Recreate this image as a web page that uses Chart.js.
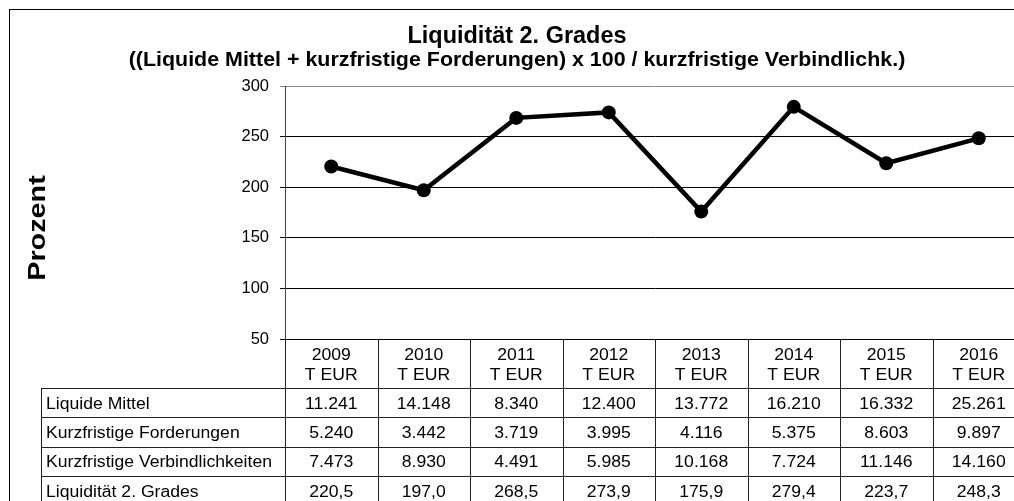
<!DOCTYPE html>
<html>
<head>
<meta charset="utf-8">
<script src="https://cdn.jsdelivr.net/npm/chart.js@4/dist/chart.umd.min.js"></script>
<style>
  html, body { margin: 0; padding: 0; background: #fff; overflow: hidden; }
  #wrap { width: 1040px; height: 501px; }
</style>
</head>
<body>
<div id="wrap"><canvas id="c" width="1040" height="501"></canvas></div>
<script>
const years = ['2009', '2010', '2011', '2012', '2013', '2014', '2015', '2016'];
const unitLabel = 'T EUR';
const liquideMittel = [11241, 14148, 8340, 12400, 13772, 16210, 16332, 25261];
const kurzfristigeForderungen = [5240, 3442, 3719, 3995, 4116, 5375, 8603, 9897];
const kurzfristigeVerbindlichkeiten = [7473, 8930, 4491, 5985, 10168, 7724, 11146, 14160];
const liquiditaet2 = [220.5, 197.0, 268.5, 273.9, 175.9, 279.4, 223.7, 248.3];
const rowLabels = ['Liquide Mittel', 'Kurzfristige Forderungen', 'Kurzfristige Verbindlichkeiten', 'Liquidität 2. Grades'];
const titleLines = ['Liquidität 2. Grades', '((Liquide Mittel + kurzfristige Forderungen) x 100 / kurzfristige Verbindlichk.)'];
const yAxisTitle = 'Prozent';
const yMin = 50, yMax = 300, yStep = 50;

const FONT = '"Liberation Sans", Arial, sans-serif';

function fmtThousands(v) {
  return String(v).replace(/\B(?=(\d{3})+(?!\d))/g, '.');
}
function fmtDecimal(v) {
  return v.toFixed(1).replace('.', ',');
}

const tableRows = [
  liquideMittel.map(fmtThousands),
  kurzfristigeForderungen.map(fmtThousands),
  kurzfristigeVerbindlichkeiten.map(fmtThousands),
  liquiditaet2.map(fmtDecimal)
];

function stretchText(ctx, text, x, y, sx, align) {
  ctx.save();
  ctx.translate(x, y);
  ctx.scale(sx, 1);
  ctx.textAlign = align;
  ctx.fillText(text, 0, 0);
  ctx.restore();
}

const decor = {
  id: 'decor',
  afterDraw(chart) {
    const ctx = chart.ctx;
    const area = chart.chartArea;
    const n = years.length;
    const colW = (area.right - area.left) / n;
    ctx.save();

    // outer frame
    ctx.strokeStyle = '#000';
    ctx.lineWidth = 1;
    ctx.strokeRect(9.5, 9.5, 1100, 700);

    // title
    ctx.fillStyle = '#000';
    ctx.textBaseline = 'alphabetic';
    const cx = (9 + area.right) / 2;
    ctx.font = 'bold 23px ' + FONT;
    stretchText(ctx, titleLines[0], cx, 43, 1.02, 'center');
    ctx.font = 'bold 21px ' + FONT;
    stretchText(ctx, titleLines[1], cx, 66, 1.02, 'center');

    // y axis title
    ctx.save();
    ctx.translate(45, 228);
    ctx.rotate(-Math.PI / 2);
    ctx.scale(1.2, 1);
    ctx.font = 'bold 24px ' + FONT;
    ctx.textAlign = 'center';
    ctx.textBaseline = 'alphabetic';
    ctx.fillText(yAxisTitle, 0, 0);
    ctx.restore();

    // table
    const headTop = area.bottom;
    const rowTop = 388;
    const rowH = 29.4;
    const labelLeft = 41;
    const bottom = 520;
    ctx.strokeStyle = '#222';
    ctx.lineWidth = 1;
    ctx.beginPath();
    for (let r = 0; r < rowLabels.length; r++) {
      const y = Math.round(rowTop + r * rowH) + 0.5;
      ctx.moveTo(labelLeft, y);
      ctx.lineTo(area.right + 20, y);
    }
    ctx.moveTo(labelLeft + 0.5, rowTop);
    ctx.lineTo(labelLeft + 0.5, bottom);
    for (let i = 0; i <= n; i++) {
      const x = Math.round(area.left + i * colW) + 0.5;
      ctx.moveTo(x, headTop);
      ctx.lineTo(x, bottom);
    }
    ctx.stroke();

    const sx = 1.1;
    ctx.font = '16px ' + FONT;
    ctx.textBaseline = 'alphabetic';
    const xs = chart.scales.x;
    for (let i = 0; i < n; i++) {
      const x = xs.getPixelForValue(i);
      stretchText(ctx, years[i], x, 360, sx, 'center');
      stretchText(ctx, unitLabel, x, 380, sx, 'center');
    }
    for (let r = 0; r < rowLabels.length; r++) {
      const y = rowTop + r * rowH + 20.5;
      stretchText(ctx, rowLabels[r], 46, y, sx, 'left');
      for (let i = 0; i < n; i++) {
        stretchText(ctx, tableRows[r][i], xs.getPixelForValue(i), y, sx, 'center');
      }
    }
    ctx.restore();
  }
};

new Chart(document.getElementById('c'), {
  type: 'line',
  data: {
    labels: years,
    datasets: [{
      data: liquiditaet2,
      borderColor: '#000',
      backgroundColor: '#000',
      borderWidth: 4.5,
      pointRadius: 7,
      pointBackgroundColor: '#000',
      pointBorderColor: '#000',
      pointBorderWidth: 0,
      tension: 0
    }]
  },
  options: {
    responsive: false,
    animation: false,
    layout: { padding: { left: 235, top: 86, right: 15, bottom: 162 } },
    plugins: { legend: { display: false }, tooltip: { enabled: false }, title: { display: false } },
    scales: {
      x: {
        type: 'category',
        display: false,
        offset: true
      },
      y: {
        min: yMin,
        max: yMax,
        afterFit(scale) { scale.width = 50; },
        ticks: {
          stepSize: yStep,
          color: '#000',
          padding: 11,
          font: { family: FONT, size: 16.5 }
        },
        grid: {
          color: (c) => (c.tick && c.tick.value === yMax) ? '#888' : '#000',
          lineWidth: 1,
          tickLength: 5,
          drawTicks: true
        },
        border: { color: '#444', width: 1 }
      }
    }
  },
  plugins: [decor]
});
</script>
</body>
</html>
